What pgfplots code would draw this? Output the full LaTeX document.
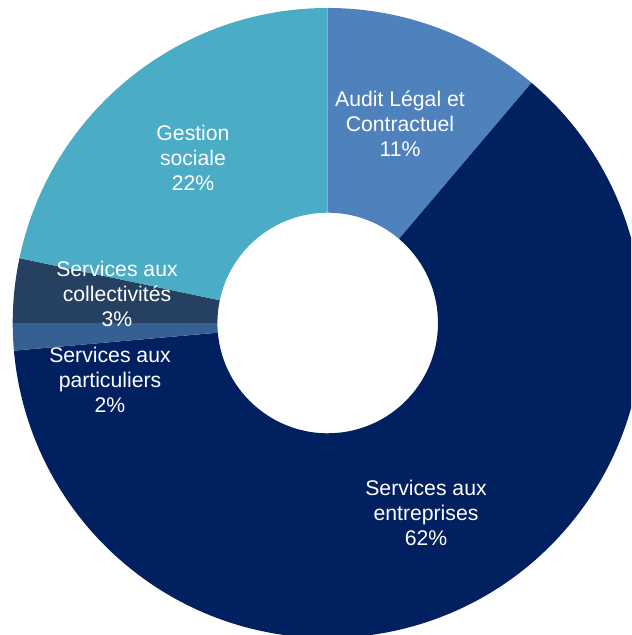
\documentclass[border=0pt]{standalone}
\usepackage{pgfplots}
\usepackage{pgfplotstable}
\usepackage{fontspec}
\setmainfont{Liberation Sans}
\pgfplotsset{compat=1.18}
\definecolor{cAudit}{RGB}{79,129,189}
\definecolor{cEntr}{RGB}{0,32,96}
\definecolor{cPart}{RGB}{55,96,146}
\definecolor{cColl}{RGB}{38,64,97}
\definecolor{cGest}{RGB}{75,172,198}

% share (%), colour, label position (px from left, px from bottom)
\pgfplotstableread[col sep=comma]{
value,color,lx,ly
11.2,cAudit,400,511
62.4,cEntr,426,122
1.4,cPart,110,255
3.3,cColl,117,341
21.7,cGest,193,477
}\data

\def\labzero{Audit Légal et\\Contractuel\\11\%}
\def\labone{Services aux\\entreprises\\62\%}
\def\labtwo{Services aux\\particuliers\\2\%}
\def\labthree{Services aux\\collectivités\\3\%}
\def\labfour{Gestion\\sociale\\22\%}
\def\labname#1{\ifcase#1 \labzero\or\labone\or\labtwo\or\labthree\or\labfour\fi}

\def\cx{327.7}\def\cy{312}
\def\R{157.5pt}\def\r{55.15pt}

\begin{document}
\begin{tikzpicture}
\begin{axis}[x=0.5pt,y=0.5pt,xmin=0,xmax=631,ymin=0,ymax=635,
  scale only axis,hide axis,clip=true,name=pie]
\pgfplotstablegetrowsof{\data}\pgfmathtruncatemacro\n{\pgfplotsretval-1}
\def\cum{0}
\pgfplotsforeachungrouped \i in {0,...,\n}{%
  \pgfplotstablegetelem{\i}{value}\of\data \let\v\pgfplotsretval
  \pgfplotstablegetelem{\i}{color}\of\data \let\c\pgfplotsretval
  \pgfmathsetmacro\aone{90-3.6*\cum}%
  \pgfmathsetmacro\atwo{90-3.6*(\cum+\v)}%
  \edef\temp{\noexpand\fill[\c] ([shift={(\aone:\R)}]axis cs:\cx,\cy)
     arc[start angle=\aone,end angle=\atwo,radius=\R]
     -- ([shift={(\atwo:\r)}]axis cs:\cx,\cy)
     arc[start angle=\atwo,end angle=\aone,radius=\r] -- cycle;}%
  \temp
  \pgfmathsetmacro\cum{\cum+\v}%
}
\pgfplotsforeachungrouped \i in {0,...,\n}{%
  \pgfplotstablegetelem{\i}{lx}\of\data \let\lx\pgfplotsretval
  \pgfplotstablegetelem{\i}{ly}\of\data \let\ly\pgfplotsretval
  \edef\temp{\noexpand\node[text=white,align=center,inner sep=0pt,
     font=\noexpand\fontsize{10.6}{12.5}\noexpand\selectfont]
     at (axis cs:\lx,\ly) {\noexpand\labname{\i}};}%
  \temp
}
\end{axis}
\pgfresetboundingbox
\path[use as bounding box] (pie.south west) rectangle (pie.north east);
\end{tikzpicture}
\end{document}
